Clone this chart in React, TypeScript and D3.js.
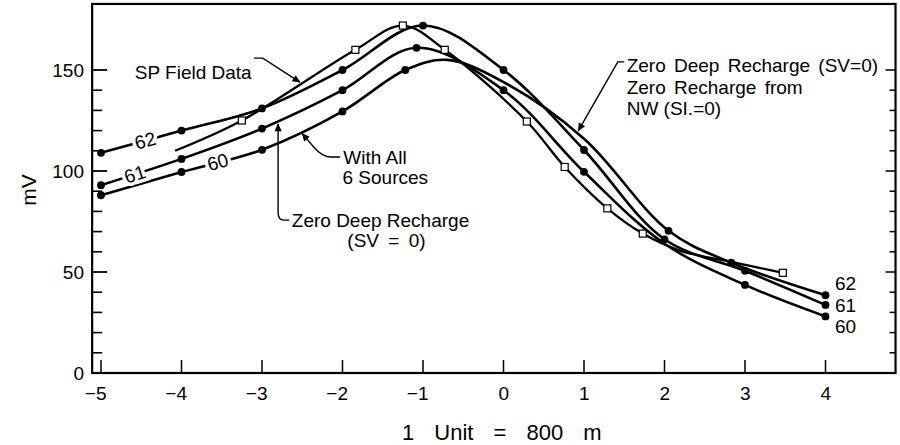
import React from 'react';
import * as d3 from 'd3';

const W = 900;
const H = 445;

// Axis ticks
const X_TICKS = [-5, -4, -3, -2, -1, 0, 1, 2, 3, 4];
const Y_MAJOR = [0, 50, 100, 150];
const Y_MINOR = [10, 20, 30, 40, 60, 70, 80, 90, 110, 120, 130, 140];

// Model curves (labelled at left end) – x in units of 800 m, values in mV
const S62_X = [-5, -4, -3, -2, -1, 0, 1, 2, 3, 4];
const S62_Y = [109, 120, 131, 150, 172, 150, 110.4, 66.2, 50.6, 33.7];
const S62_DOT = [1, 1, 1, 1, 1, 1, 1, 1, 1, 1];

const S61_X = [-5, -4, -3, -2, -1.08, 0, 1, 2, 3, 4];
const S61_Y = [93, 106, 121, 140, 161, 140, 99.6, 64, 43.6, 28];
const S61_DOT = [1, 1, 1, 1, 1, 1, 1, 0, 1, 1];

const S60_X = [-5, -4, -3, -2, -1.22, -0.7, 0, 1, 2.05, 2.83, 4];
const S60_Y = [88, 99.5, 110.5, 129.5, 150, 155, 144, 116, 70.4, 54.6, 38.5];
const S60_DOT = [1, 1, 1, 1, 1, 0, 0, 0, 1, 1, 1];

// SP field data
const FIELD_X = [-4.08, -3.25, -1.84, -1.25, -0.73, 0.29, 0.76, 1.29, 1.73, 2.2, 2.83, 3.47];
const FIELD_Y = [110, 125, 160, 172, 160, 124.5, 102, 81.5, 69, 60.5, 55, 49.6];
const FIELD_MARK = [0, 1, 1, 1, 1, 1, 1, 1, 1, 0, 0, 1];

// Curve labels
const LEFT_LABELS = ['62', '61', '60'];
const LEFT_LABEL_X = [-4.45, -4.58, -3.55];
const RIGHT_LABELS = ['62', '61', '60'];
const RIGHT_LABEL_Y = [41.1, 30.3, 19.8];

const FONT = '"Liberation Sans", Arial, Helvetica, sans-serif';

const x = d3.scaleLinear().domain([-5, 4]).range([101, 825.5]);
const y = d3.scaleLinear().domain([0, 100]).range([373, 171]);

type P = [number, number];
const zip = (xs: number[], ys: number[]): P[] => xs.map((v, i) => [v, ys[i]]);

const lineGen = d3
  .line<P>()
  .x((d) => x(d[0]))
  .y((d) => y(d[1]))
  .curve(d3.curveCatmullRom.alpha(0.5));

const models = [
  { name: '62', pts: zip(S62_X, S62_Y), dots: S62_DOT },
  { name: '61', pts: zip(S61_X, S61_Y), dots: S61_DOT },
  { name: '60', pts: zip(S60_X, S60_Y), dots: S60_DOT },
];
const field = zip(FIELD_X, FIELD_Y);

function valueAt(pts: P[], xv: number): number {
  for (let i = 0; i < pts.length - 1; i++) {
    if (xv >= pts[i][0] && xv <= pts[i + 1][0]) {
      const t = (xv - pts[i][0]) / (pts[i + 1][0] - pts[i][0]);
      return pts[i][1] + t * (pts[i + 1][1] - pts[i][1]);
    }
  }
  return pts[0][1];
}
function angleAt(pts: P[]): number {
  const a = pts[0], b = pts[1];
  return (Math.atan2(y(b[1]) - y(a[1]), x(b[0]) - x(a[0])) * 180) / Math.PI;
}

export default function App() {
  const left = x(-5.11);
  const right = x(4.87);
  const top = y(182.7);
  const bottom = y(0);
  const fs = 19;

  const P = (xv: number, yv: number) => `${x(xv)},${y(yv)}`;

  return (
    <svg
      width={W}
      height={H}
      viewBox={`0 0 ${W} ${H}`}
      style={{ position: 'absolute', left: 0, top: 0, background: '#fff' }}
      fontFamily={FONT}
    >
      <defs>
        <marker
          id="arr"
          viewBox="0 0 10 10"
          refX="9"
          refY="5"
          markerWidth="11"
          markerHeight="8"
          markerUnits="userSpaceOnUse"
          orient="auto"
        >
          <path d="M0,0.5 L10,5 L0,9.5 z" fill="#000" />
        </marker>
      </defs>
      <rect x={0} y={0} width={W} height={H} fill="#fff" />

      {/* frame */}
      <rect x={left} y={top} width={right - left} height={bottom - top} fill="none" stroke="#000" strokeWidth={2.2} />

      {/* left ticks */}
      {Y_MAJOR.map((v) => (
        <line key={'lm' + v} x1={left} x2={left + 15} y1={y(v)} y2={y(v)} stroke="#000" strokeWidth={1.8} />
      ))}
      {Y_MINOR.map((v) => (
        <line key={'ln' + v} x1={left} x2={left + 10} y1={y(v)} y2={y(v)} stroke="#000" strokeWidth={1.6} />
      ))}
      {/* right ticks */}
      {Y_MAJOR.concat(Y_MINOR).map((v) => (
        <line
          key={'r' + v}
          x1={right}
          x2={right - (v % 50 === 0 ? 10 : 6)}
          y1={y(v)}
          y2={y(v)}
          stroke="#000"
          strokeWidth={1.5}
        />
      ))}
      {/* bottom ticks */}
      {X_TICKS.map((v) => (
        <line key={'b' + v} x1={x(v)} x2={x(v)} y1={bottom} y2={bottom - 13} stroke="#000" strokeWidth={1.5} />
      ))}

      {/* tick labels */}
      {Y_MAJOR.map((v) => (
        <text key={'yl' + v} x={84} y={y(v) + 7} fontSize={fs} textAnchor="end">
          {v}
        </text>
      ))}
      {X_TICKS.map((v) => (
        <text key={'xl' + v} x={x(v) + 5.5} y={400} fontSize={fs} textAnchor="end">
          {v < 0 ? '\u2212' + Math.abs(v) : String(v)}
        </text>
      ))}

      {/* axis titles */}
      <text x={402} y={440} fontSize={22} wordSpacing={14}>
        1 Unit = 800 m
      </text>
      <text transform={`translate(36,190) rotate(-90)`} fontSize={21} textAnchor="middle">
        mV
      </text>

      {/* field data */}
      <path d={lineGen(field) || ''} fill="none" stroke="#000" strokeWidth={2.3} />

      {/* model curves */}
      {models.map((m) => (
        <path key={'c' + m.name} d={lineGen(m.pts) || ''} fill="none" stroke="#000" strokeWidth={2.6} />
      ))}

      {/* field squares */}
      {field.map((d, i) =>
        FIELD_MARK[i] ? (
          <rect
            key={'fs' + i}
            x={x(d[0]) - 3.5}
            y={y(d[1]) - 3.5}
            width={7}
            height={7}
            fill="#fff"
            stroke="#000"
            strokeWidth={1.2}
          />
        ) : null
      )}

      {/* model dots */}
      {models.map((m) =>
        m.pts.map((d, i) =>
          m.dots[i] ? <circle key={'d' + m.name + i} cx={x(d[0])} cy={y(d[1])} r={3.9} fill="#000" /> : null
        )
      )}

      {/* left curve labels */}
      {models.map((m, i) => {
        const lx = LEFT_LABEL_X[i];
        const ly = valueAt(m.pts, lx);
        const ang = angleAt(m.pts);
        return (
          <text
            key={'ll' + i}
            transform={`translate(${x(lx)},${y(ly)}) rotate(${ang})`}
            dy="0.35em"
            fontSize={fs}
            textAnchor="middle"
            stroke="#fff"
            strokeWidth={7}
            paintOrder="stroke"
            fill="#000"
          >
            {LEFT_LABELS[i]}
          </text>
        );
      })}

      {/* right curve labels */}
      {RIGHT_LABELS.map((t, i) => (
        <text key={'rl' + i} x={x(4.118)} y={y(RIGHT_LABEL_Y[i])} fontSize={fs}>
          {t}
        </text>
      ))}

      {/* SP Field Data annotation */}
      <text x={x(-4.58)} y={y(145.5)} fontSize={fs}>
        SP Field Data
      </text>
      <path
        d={`M${P(-3.1, 155.9)} L${P(-2.99, 155.9)} L${P(-2.53, 144)}`}
        fill="none"
        stroke="#000"
        strokeWidth={1.4}
        markerEnd="url(#arr)"
      />

      {/* With All 6 Sources */}
      <text x={x(-1.99)} y={y(103.5)} fontSize={fs}>
        With All
      </text>
      <text x={x(-2.0)} y={y(93.6)} fontSize={fs}>
        6 Sources
      </text>
      <path
        d={`M${P(-2.03, 106.9)} L${P(-2.14, 106.9)} Q${P(-2.25, 106.9)} ${P(-2.35, 111.5)} L${P(-2.5, 118.5)}`}
        fill="none"
        stroke="#000"
        strokeWidth={1.4}
        markerEnd="url(#arr)"
      />

      {/* Zero Deep Recharge (SV = 0) */}
      <text x={x(-2.63)} y={y(72.3)} fontSize={fs}>
        Zero Deep Recharge
      </text>
      <text x={x(-1.94)} y={y(62.4)} fontSize={fs} wordSpacing={4}>
        (SV = 0)
      </text>
      <path
        d={`M${P(-2.66, 75.7)} L${P(-2.73, 75.7)} Q${P(-2.8, 75.7)} ${P(-2.8, 79.7)} L${P(-2.8, 123.3)}`}
        fill="none"
        stroke="#000"
        strokeWidth={1.4}
        markerEnd="url(#arr)"
      />

      {/* Zero Deep Recharge (SV=0) / Zero Recharge from NW (SI.=0) */}
      <text x={x(1.53)} y={y(149)} fontSize={fs} wordSpacing={3}>
        Zero Deep Recharge (SV=0)
      </text>
      <text x={x(1.53)} y={y(138.2)} fontSize={fs} wordSpacing={3}>
        Zero Recharge from
      </text>
      <text x={x(1.53)} y={y(127.7)} fontSize={fs}>
        NW (SI.=0)
      </text>
      <path
        d={`M${P(1.5, 154)} L${P(1.42, 154)} L${P(0.93, 120)}`}
        fill="none"
        stroke="#000"
        strokeWidth={1.4}
        markerEnd="url(#arr)"
      />
    </svg>
  );
}
